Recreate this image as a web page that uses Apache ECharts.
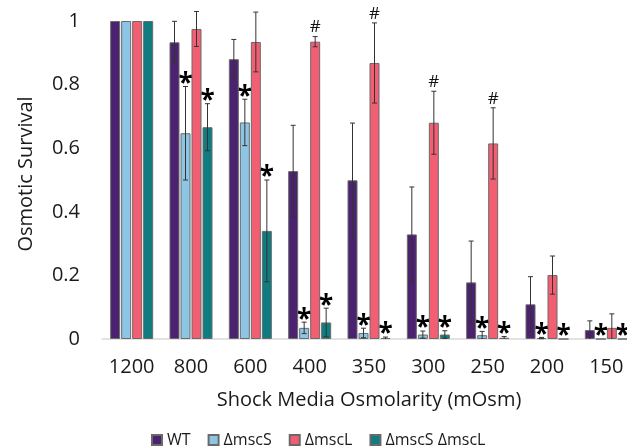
<!DOCTYPE html>
<html>
<head>
<meta charset="utf-8">
<script src="https://cdn.jsdelivr.net/npm/echarts@6/dist/echarts.min.js"></script>
<style>html,body{margin:0;padding:0;background:#fff;}#c{width:627px;height:447px;}</style>
</head>
<body>
<div id="c"></div>
<script>
const categories = ['1200', '800', '600', '400', '350', '300', '250', '200', '150'];
const seriesNames = ['WT', 'ΔmscS', 'ΔmscL', 'ΔmscS ΔmscL'];
const wt       = [1, 0.933, 0.880, 0.528, 0.499, 0.329, 0.178, 0.109, 0.028];
const wtErr    = [0, 0.066, 0.062, 0.144, 0.180, 0.149, 0.130, 0.087, 0.029];
const mscS     = [1, 0.647, 0.681, 0.035, 0.019, 0.014, 0.012, 0.003, 0];
const mscSErr  = [0, 0.147, 0.073, 0.018, 0.015, 0.011, 0.012, 0.002, 0];
const mscL     = [1, 0.975, 0.934, 0.935, 0.868, 0.680, 0.615, 0.201, 0.035];
const mscLErr  = [0, 0.055, 0.094, 0.016, 0.126, 0.099, 0.112, 0.060, 0.044];
const mscSL    = [1, 0.666, 0.340, 0.052, 0.003, 0.014, 0.004, 0, 0];
const mscSLErr = [0, 0.074, 0.160, 0.045, 0.003, 0.012, 0.004, 0, 0];
const wtMarks    = ['', '', '', '', '', '', '', '', ''];
const mscSMarks  = ['', '*', '*', '*', '*', '*', '*', '*', '*'];
const mscLMarks  = ['', '', '', '#', '#', '#', '#', '', ''];
const mscSLMarks = ['', '*', '*', '*', '*', '*', '*', '*', '*'];
const yTicks = [0, 0.2, 0.4, 0.6, 0.8, 1];

const colors = ['#4B2270', '#8EC5E5', '#F25F73', '#0E7C80'];
const values = [wt, mscS, mscL, mscSL];
const errs = [wtErr, mscSErr, mscLErr, mscSLErr];
const marks = [wtMarks, mscSMarks, mscLMarks, mscSLMarks];
const FONT = '"Open Sans", "Noto Sans", sans-serif';
const BAR_W = 10, GAP = 1;

const chart = echarts.init(document.getElementById('c'), null, {renderer: 'canvas'});

const series = [];
values.forEach((vals, i) => {
  series.push({
    name: seriesNames[i],
    type: 'bar',
    data: vals,
    barWidth: BAR_W,
    barGap: '10%',
    itemStyle: {color: colors[i], borderColor: '#6a6a6a', borderWidth: 1},
    emphasis: {disabled: true},
    z: 2
  });
});
values.forEach((vals, i) => {
  series.push({
    type: 'custom',
    silent: true,
    z: 5,
    data: vals.map((v, k) => [k, v, errs[i][k], marks[i][k]]),
    renderItem: function (params, api) {
      const k = api.value(0);
      const v = api.value(1);
      const e = api.value(2);
      const m = marks[i][k];
      const off = (i - 1.5) * (BAR_W + GAP);
      const c = api.coord([k, v]);
      const x = c[0] + off;
      const children = [];
      let topY = c[1];
      if (e > 0) {
        const pTop = api.coord([k, v + e]);
        const pBot = api.coord([k, Math.max(0, v - e)]);
        topY = pTop[1];
        const ls = {stroke: '#333', lineWidth: 1};
        children.push({type: 'line', shape: {x1: x, y1: pTop[1], x2: x, y2: pBot[1]}, style: ls});
        children.push({type: 'line', shape: {x1: x - 2.5, y1: pTop[1], x2: x + 2.5, y2: pTop[1]}, style: ls});
        if (v - e > 0) {
          children.push({type: 'line', shape: {x1: x - 2.5, y1: pBot[1], x2: x + 2.5, y2: pBot[1]}, style: ls});
        }
      }
      if (m === '*') {
        children.push({type: 'text', style: {text: '*', x: x, y: topY - 2, align: 'center', verticalAlign: 'middle',
          font: 'bold 26px ' + FONT, fill: '#000'}});
      } else if (m === '#') {
        children.push({type: 'text', style: {text: '#', x: x, y: topY - 9, align: 'center', verticalAlign: 'middle',
          font: '17px ' + FONT, fill: '#111'}});
      }
      return {type: 'group', children: children};
    }
  });
});

chart.setOption({
  animation: false,
  backgroundColor: '#fff',
  textStyle: {fontFamily: FONT},
  grid: {left: 102, right: -9, top: 21, bottom: 108, containLabel: false, outerBoundsMode: 'none'},
  legend: {
    data: seriesNames,
    left: 151, top: 432, padding: 0,
    itemWidth: 10, itemHeight: 10, itemGap: 17,
    icon: 'rect',
    textStyle: {fontSize: 16, color: '#1a1a1a', fontFamily: FONT}
  },
  xAxis: {
    type: 'category',
    data: categories,
    name: 'Shock Media Osmolarity (mOsm)',
    nameLocation: 'middle',
    nameGap: 51,
    nameTextStyle: {fontSize: 20, color: '#1a1a1a', fontFamily: FONT},
    axisLine: {show: true, lineStyle: {color: '#d9d9d9', width: 1.5}},
    axisTick: {show: false},
    axisLabel: {fontSize: 20, color: '#1a1a1a', margin: 18, interval: 0, hideOverlap: false, fontFamily: FONT}
  },
  yAxis: {
    type: 'value',
    min: yTicks[0], max: yTicks[yTicks.length - 1], interval: 0.2,
    name: 'Osmotic Survival',
    nameLocation: 'middle',
    nameGap: 66,
    nameTextStyle: {fontSize: 20, color: '#1a1a1a', fontFamily: FONT, padding: [0, 0, 0, 12]},
    axisLine: {show: false},
    axisTick: {show: false},
    splitLine: {show: false},
    axisLabel: {fontSize: 20, color: '#1a1a1a', margin: 22, fontFamily: FONT}
  },
  series: series
});
</script>
</body>
</html>
